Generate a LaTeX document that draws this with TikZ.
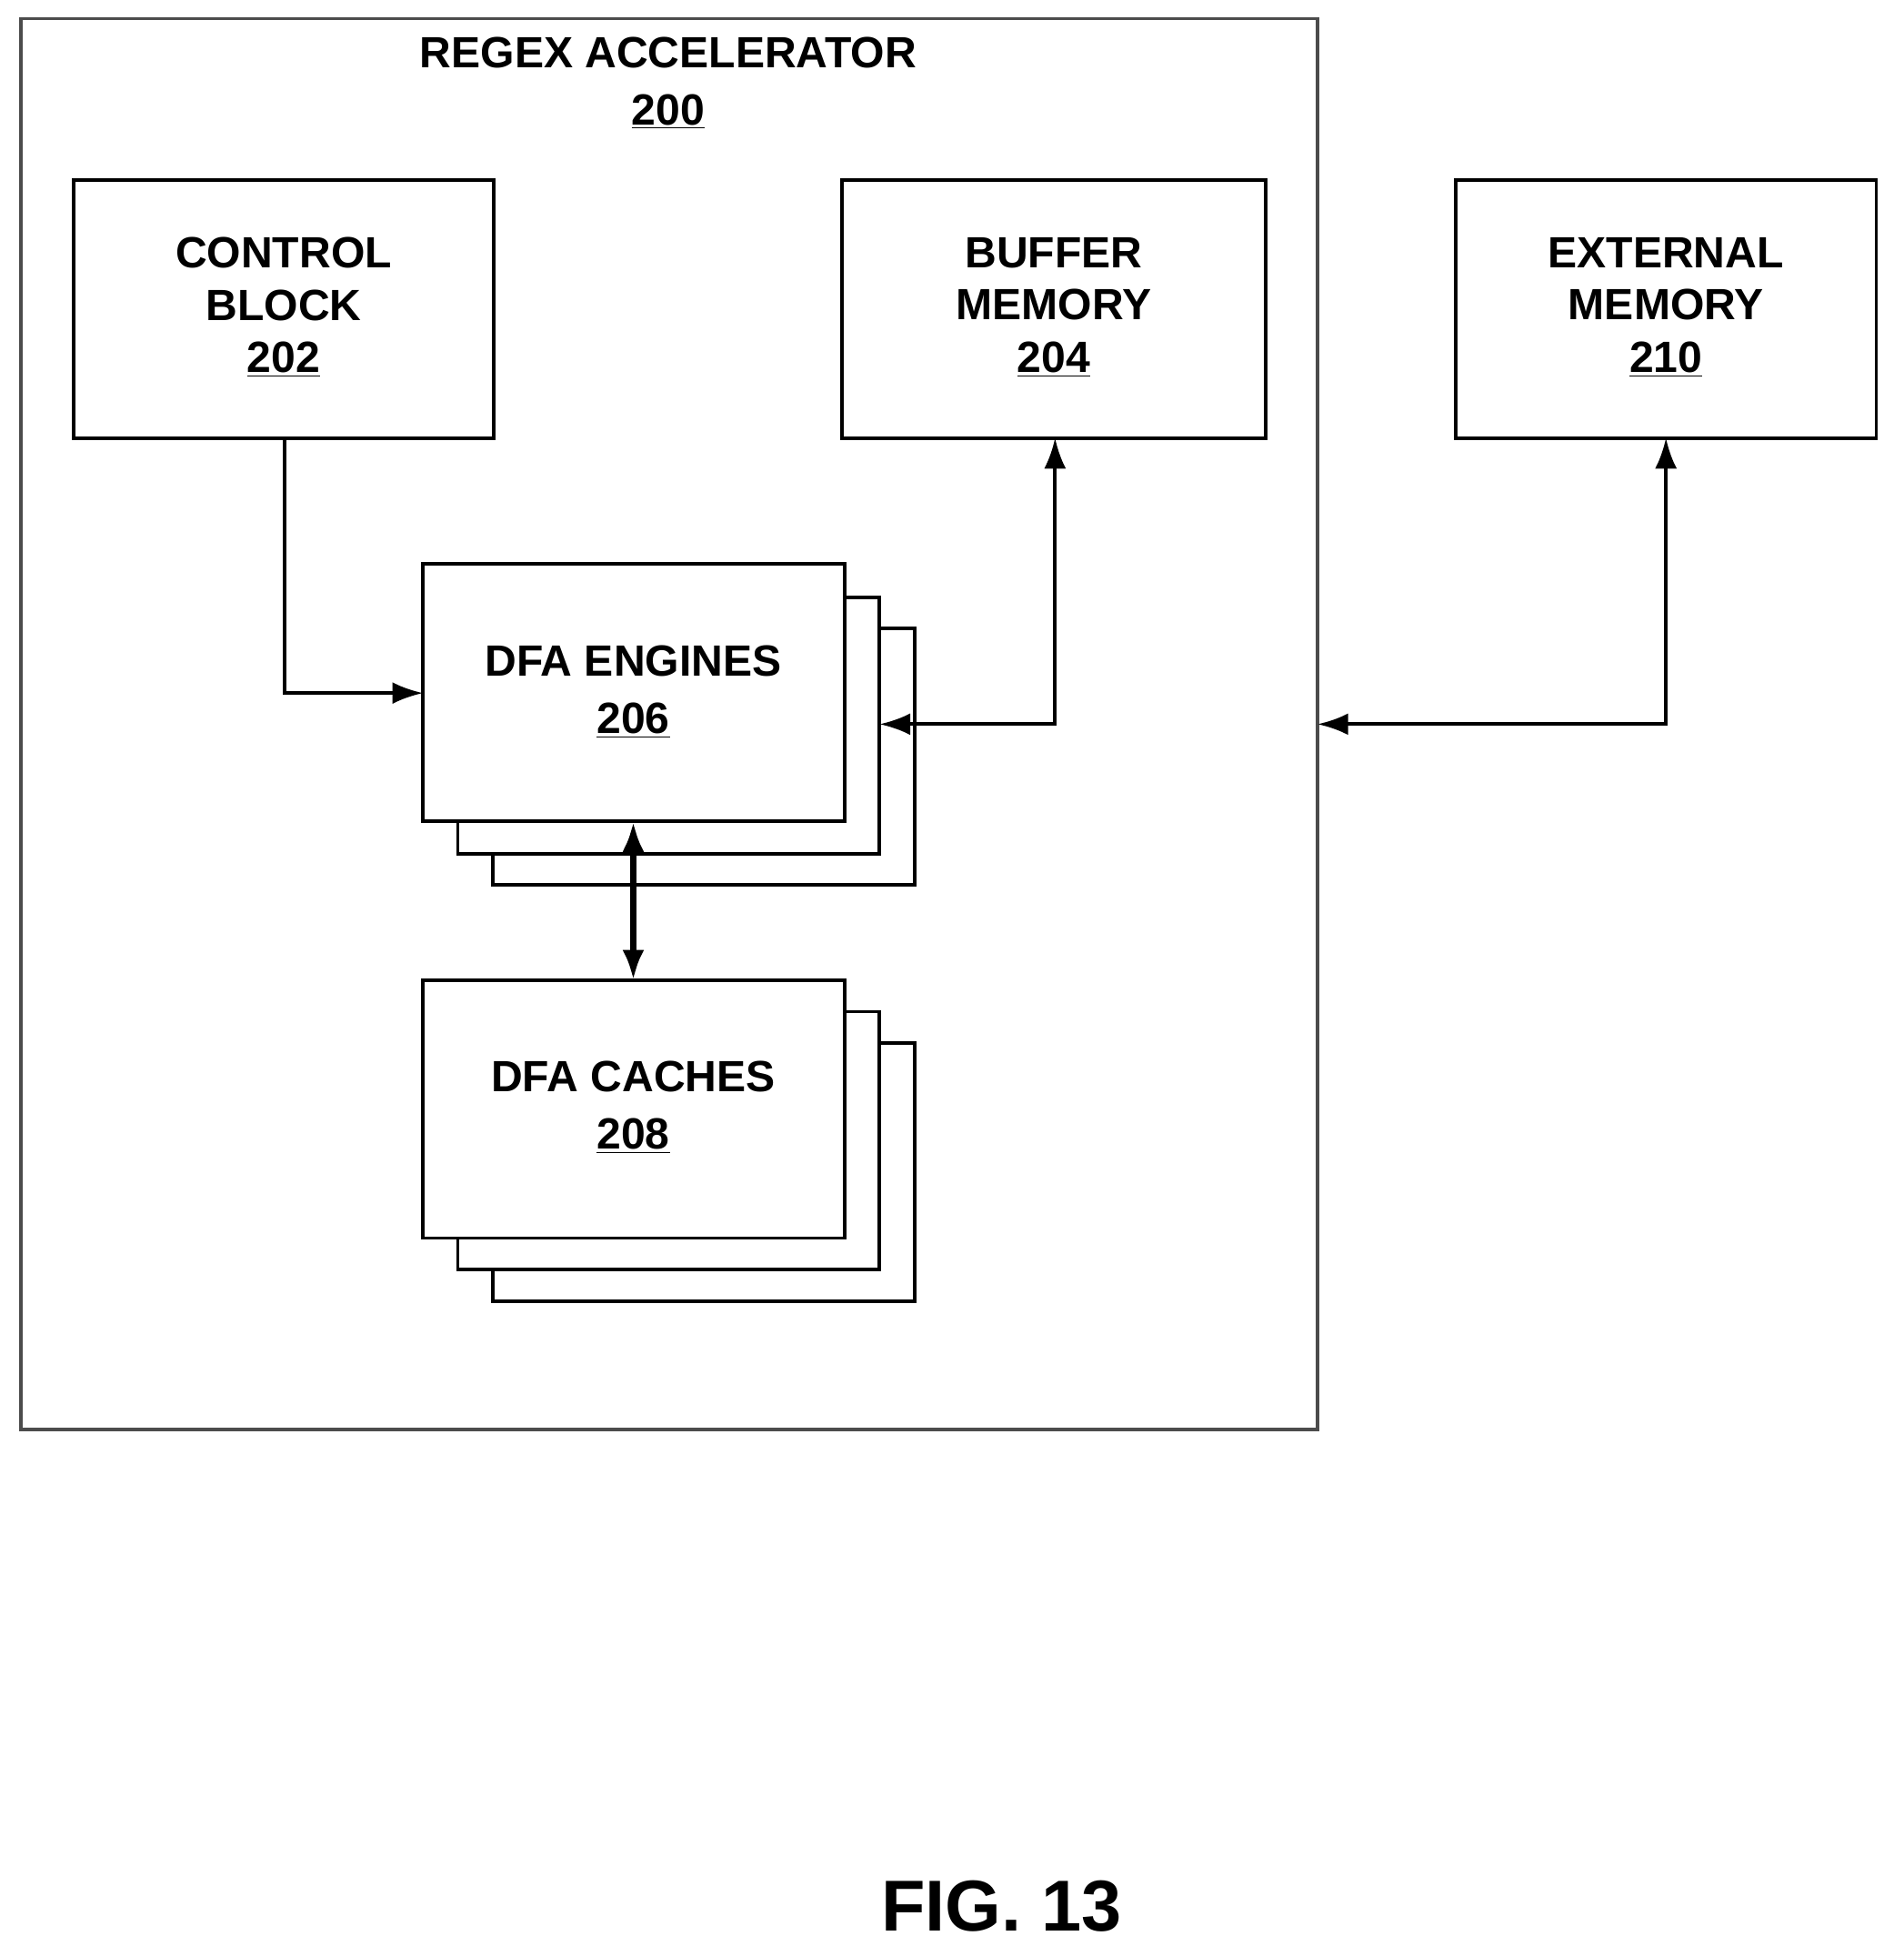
\documentclass[tikz,border=0pt]{standalone}
\usepackage{fontspec}
\setmainfont{Liberation Sans}
\usetikzlibrary{arrows.meta}
\begin{document}
\begin{tikzpicture}[x=0.02cm,y=-0.02cm,
  box/.style={draw,line width=1.6pt,fill=white},
  lbl/.style={font=\fontsize{20}{24}\selectfont\bfseries,align=center},
  conn/.style={line width=1.6pt},
  tip/.style={-{Latex[length=14pt,width=10pt]}},
  dtip/.style={{Latex[length=14pt,width=10pt]}-{Latex[length=14pt,width=10pt]}}]
\useasboundingbox (0,0) rectangle (1530,1572);
\draw[box,draw=black!70] (17,15) rectangle (1059,1149);
\node[lbl] (title) at (537,67) {REGEX ACCELERATOR\\[2pt]\underline{200}};
% control
\draw[box] (59,145) rectangle (397,352);
\coordinate (cbB) at (229,352);
\node[lbl] (cb) at (228,247) {CONTROL\\BLOCK\\\underline{202}};
% buffer
\draw[box] (677,145) rectangle (1017,352);
\coordinate (bmB) at (848,352);
\node[lbl] (bm) at (847,247) {BUFFER\\MEMORY\\\underline{204}};
% external
\draw[box] (1170,145) rectangle (1508,352);
\coordinate (emB) at (1339,352);
\node[lbl] (em) at (1339,247) {EXTERNAL\\MEMORY\\\underline{210}};
% engines
\draw[box] (396,505) rectangle (735,711);
\draw[box] (368,480) rectangle (707,686);
\draw[box] (340,453) rectangle (679,660);
\node[lbl] (eng) at (509,556) {DFA ENGINES\\[2pt]\underline{206}};
% caches
\draw[box] (396,838) rectangle (735,1046);
\draw[box] (368,813) rectangle (707,1020);
\draw[box] (340,788) rectangle (679,995);
\node[lbl] (cac) at (509,890) {DFA CACHES\\[2pt]\underline{208}};
\coordinate (engL) at (340,557);
\coordinate (engR) at (707,582);
\coordinate (engB) at (509,660);
\coordinate (cacT) at (509,788);
\coordinate (accR) at (1059,582);
% connectors
\draw[conn,tip] (cbB) |- (engL);
\draw[conn,dtip] (bmB) |- (engR);
\draw[conn,dtip] (emB) |- (accR);
\draw[line width=3pt,dtip] (engB) -- (cacT);
\node[font=\fontsize{33}{38}\selectfont\bfseries] (fig) at (805,1532) {FIG. 13};
\end{tikzpicture}
\end{document}
